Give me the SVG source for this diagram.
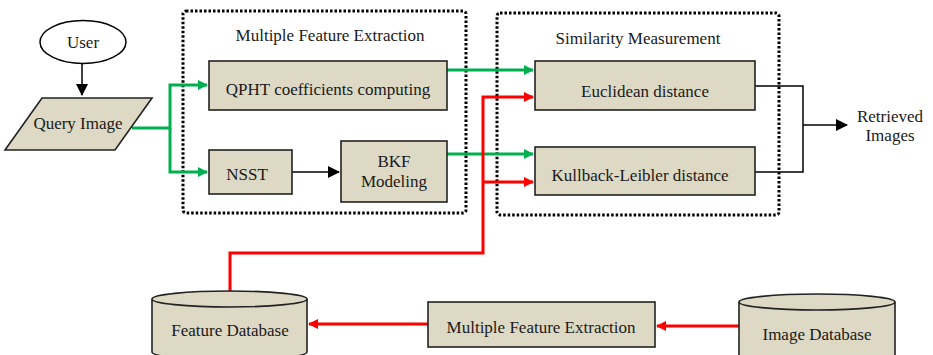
<svg xmlns="http://www.w3.org/2000/svg" width="933" height="355" viewBox="0 0 933 355">
<style>
.t{font-family:'Liberation Serif','DejaVu Serif','Times New Roman',serif;font-size:17px;fill:#1a1a1a;text-anchor:middle;dominant-baseline:central}
.box{fill:#DDD9C4;stroke:#222;stroke-width:1.6}
.dot{fill:none;stroke:#000;stroke-width:3;stroke-dasharray:2.5 2}
.g{fill:none;stroke:#00B050;stroke-width:3}
.r{fill:none;stroke:#FF0000;stroke-width:3}
.k{fill:none;stroke:#000;stroke-width:1.5}
</style>
<defs>
<marker id="ag" markerWidth="10" markerHeight="10" refX="9" refY="5" orient="auto" markerUnits="userSpaceOnUse"><path d="M0,0 L10,5 L0,10 Z" fill="#00B050"/></marker>
<marker id="ar" markerWidth="10" markerHeight="10" refX="9" refY="5" orient="auto" markerUnits="userSpaceOnUse"><path d="M0,0 L10,5 L0,10 Z" fill="#FF0000"/></marker>
<marker id="ak" markerWidth="12" markerHeight="12" refX="11" refY="6" orient="auto" markerUnits="userSpaceOnUse"><path d="M0,0 L12,6 L0,12 Z" fill="#000"/></marker>
</defs>

<g id="group-mfe"><rect class="dot" x="183" y="11" width="283" height="202" rx="3"/><text class="t" x="330" y="35">Multiple Feature Extraction</text></g>
<g id="group-sim"><rect class="dot" x="497" y="13" width="282" height="202" rx="3"/><text class="t" x="638" y="38">Similarity Measurement</text></g>

<g id="connectors">
<path class="k" d="M82,63 V95" marker-end="url(#ak)"/>
<path class="g" d="M132,128 H170 V85 H207" marker-end="url(#ag)"/>
<path class="g" d="M170,128 V172 H207" marker-end="url(#ag)"/>
<path class="k" d="M292,172 H339" marker-end="url(#ak)"/>
<path class="g" d="M447,70 H533" marker-end="url(#ag)"/>
<path class="g" d="M447,154 H533" marker-end="url(#ag)"/>
<path class="r" d="M230,292 V253 H483 V97 H533" marker-end="url(#ar)"/>
<path class="r" d="M483,182 H533" marker-end="url(#ar)"/>
<path class="r" d="M428,324 H309" marker-end="url(#ar)"/>
<path class="r" d="M739,326 H657" marker-end="url(#ar)"/>
<path class="k" d="M755,86 H803 V172 H755"/>
<path class="k" d="M803,125 H847" marker-end="url(#ak)"/>
</g>

<g id="user"><ellipse cx="83" cy="42" rx="43" ry="21.5" fill="#fff" stroke="#000" stroke-width="1.5"/><text class="t" x="83" y="42">User</text></g>
<g id="query"><polygon class="box" points="42,98 152,98 115,150 5,150"/><text class="t" x="78" y="123">Query Image</text></g>
<g id="qpht"><rect class="box" x="209" y="61" width="238" height="49"/><text class="t" x="328" y="89">QPHT coefficients computing</text></g>
<g id="nsst"><rect class="box" x="209" y="150" width="83" height="44"/><text class="t" x="247" y="174">NSST</text></g>
<g id="bkf"><rect class="box" x="341" y="141" width="106" height="61"/><text class="t" x="394" y="161">BKF</text><text class="t" x="394" y="181">Modeling</text></g>
<g id="euclid"><rect class="box" x="535" y="61" width="220" height="49"/><text class="t" x="645" y="91">Euclidean distance</text></g>
<g id="kl"><rect class="box" x="535" y="147" width="220" height="48"/><text class="t" x="640" y="175">Kullback-Leibler distance</text></g>
<g id="retrieved"><text class="t" x="890" y="116">Retrieved</text><text class="t" x="890" y="135">Images</text></g>
<g id="featdb"><path class="box" d="M152,299 V352 A77.5,8 0 0 0 307,352 V299"/><ellipse class="box" cx="229.5" cy="299" rx="77.5" ry="8"/><text class="t" x="230" y="330">Feature Database</text></g>
<g id="mfe2"><rect class="box" x="428" y="302" width="227" height="45"/><text class="t" x="541" y="327">Multiple Feature Extraction</text></g>
<g id="imgdb"><path class="box" d="M739,302 V355 A78,8 0 0 0 895,355 V302"/><ellipse class="box" cx="817" cy="302" rx="78" ry="8"/><text class="t" x="817" y="334">Image Database</text></g>
</svg>
